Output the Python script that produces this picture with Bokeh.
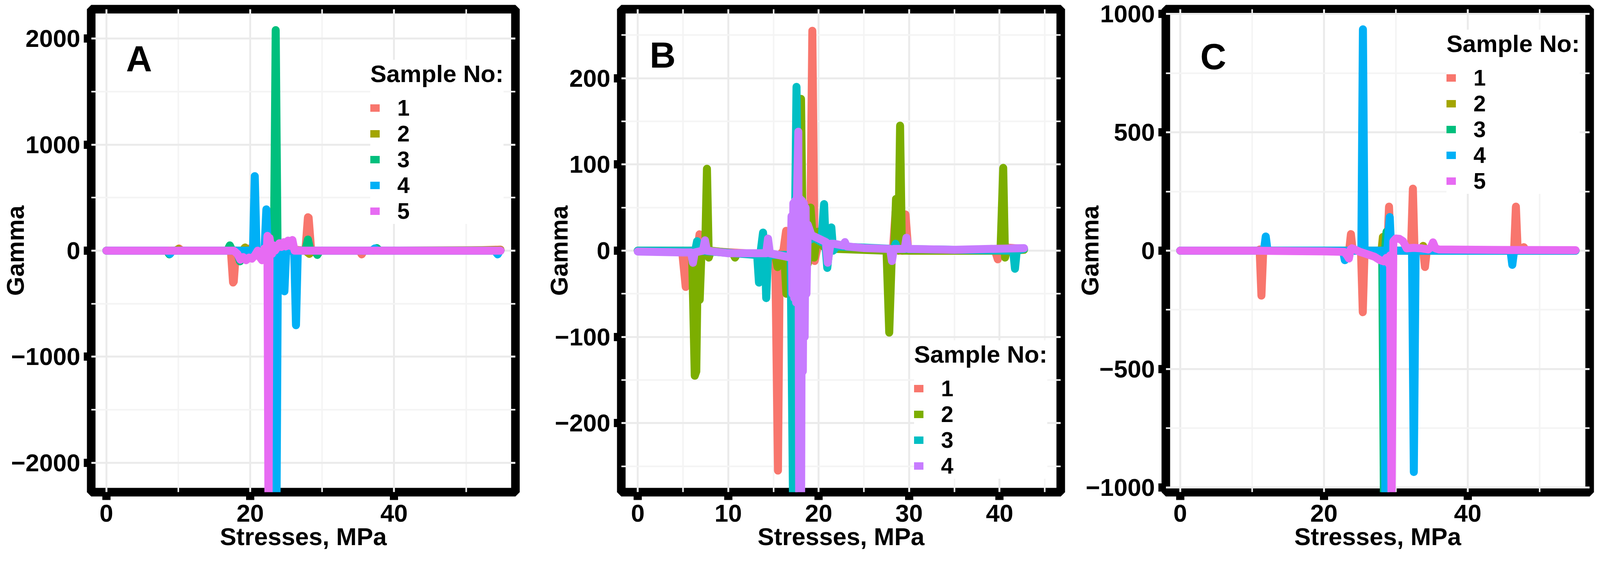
from bokeh.plotting import figure
from bokeh.models import FixedTicker, Legend, LegendItem, Label, Range1d
from bokeh.layouts import row
from bokeh.embed import file_html
from bokeh.resources import INLINE

# ---------------- data ----------------
# Panel A (5 samples)
a_names = ["1", "2", "3", "4", "5"]
a_colors = ["#F8766D", "#A3A500", "#00BF7D", "#00B0F6", "#E76BF3"]
a1_x = [0, 5, 9.7, 10.1, 10.5, 15, 17.31, 17.61, 17.71, 18.02, 19.43, 19.83, 20.63, 22.24, 23.75, 25.25, 27.67, 28.02, 28.12, 28.47, 30, 35.2, 35.5, 35.8, 40, 45, 50, 54.8]
a1_y = [0, 0, 0, 20, 0, 0, 0, -300, -290, 0, 0, 20, -15, 10, 0, 15, 0, 315, 310, 0, 0, 0, -35, 0, 0, 0, 0, 10]
a2_x = [0, 9.6, 10.0, 10.4, 18.92, 19.27, 19.63, 22.24, 27.67, 28.22, 28.67, 36, 54.8]
a2_y = [0, 0, 15, 0, 0, 30, 0, 0, 0, -30, 0, 0, 5]
a3_x = [0, 8.4, 8.75, 9.1, 16.81, 17.16, 17.51, 18.12, 18.57, 19.02, 23.29, 23.54, 23.8, 27.67, 28.02, 28.37, 28.97, 29.33, 29.68, 37.2, 37.6, 38.0, 54.8]
a3_y = [0, 0, -35, 0, 0, 50, 0, 0, -100, 0, 0, 2080, 0, 0, 105, 0, 0, -40, 0, 0, 25, 0, 0]
a4_x = [0, 8.5, 8.85, 9.2, 20.38, 20.63, 20.88, 21.98, 22.24, 22.44, 23.44, 23.64, 23.85, 24.5, 24.75, 25.0, 26.11, 26.36, 26.61, 36.9, 37.3, 37.7, 54.0, 54.4, 54.7]
a4_y = [0, 0, -30, 0, 0, 703, 0, 0, 390, 0, 0, -2600, 0, 0, -383, 0, 0, -703, 0, 0, 20, 0, 0, -35, 0]
a5_x = [0, 5, 10, 15, 17.71, 18.22, 18.62, 19.02, 19.42, 19.83, 20.23, 20.63, 21.03, 21.33, 21.64, 21.94, 22.24, 22.39, 22.54, 22.69, 22.84, 23.04, 23.24, 23.44, 23.75, 24.05, 24.35, 24.65, 24.95, 25.25, 25.56, 25.86, 26.16, 26.76, 30, 40, 50, 54.8]
a5_y = [0, 0, 0, 0, 0, -30, -85, -60, -90, -65, -75, -45, 0, -60, -90, 20, -70, 140, -2600, 120, 40, -30, 50, 0, 30, 70, 35, 80, 40, 95, 45, 100, 0, 0, 0, 0, 0, 0]

# Panel B (4 samples)
b_names = ["1", "2", "3", "4"]
b_colors = ["#F8766D", "#7CAE00", "#00BFC4", "#C77CFF"]
b1_x = [0, 4.9, 5.3, 5.5, 5.7, 6.6, 6.83, 7.05, 12.0, 15.2, 15.5, 15.7, 16.1, 16.4, 16.7, 17.5, 18.2, 18.6, 19.05, 19.3, 19.55, 19.9, 20.3, 21.0, 25.0, 28.2, 28.5, 28.8, 29.3, 29.6, 29.9, 35.0, 39.5, 39.8, 40.1, 40.3, 42.7]
b1_y = [0, 0, -42, -38, 0, 0, 19, 0, -3, -5, -255, -5, 0, 23, 0, 0, -10, -12, 0, 255, -12, 5, 18, 5, 2, 0, 45, 0, 0, 42, 0, 0, 0, -10, 0, 4, 2]
b2_x = [0, 6.0, 6.3, 6.47, 6.65, 6.85, 7.05, 7.45, 7.65, 7.85, 8.1, 10.5, 10.75, 11.0, 15.2, 15.45, 15.7, 16.2, 16.43, 16.65, 17.85, 18.05, 18.25, 18.5, 18.8, 19.1, 19.5, 19.9, 20.5, 22.0, 27.5, 27.8, 28.1, 28.35, 28.55, 28.8, 29.0, 29.2, 30.0, 40.1, 40.4, 40.6, 40.8, 42.7]
b2_y = [0, 0, -145, -140, 0, -57, 0, 0, 95, -8, 0, -3, -8, -3, -5, -19, -5, -5, -50, -5, 0, 176, 0, 45, -15, 50, -8, 22, 5, 2, 0, -95, 0, 0, 60, 0, 145, 0, 0, 0, 96, -8, 0, 1]
b3_x = [0, 6.35, 6.56, 6.75, 13.2, 13.4, 13.6, 13.85, 14.05, 14.2, 14.4, 16.9, 17.2, 17.35, 17.55, 17.75, 18.0, 18.5, 19.5, 20.3, 20.6, 20.8, 20.95, 21.15, 21.4, 21.6, 22.0, 28.3, 28.5, 28.7, 41.5, 41.7, 41.9, 42.7]
b3_y = [0, 0, 11, 0, -5, -37, 0, 21, 0, -55, -5, -5, -330, 0, 190, 0, -20, 10, 15, 10, 54, 0, -20, 0, 27, 0, 5, 2, 8, 2, 0, -21, 0, 2]
b4_x = [0, 5.0, 5.9, 6.1, 6.3, 7.2, 7.43, 7.65, 10.0, 14.2, 14.4, 14.6, 16.0, 16.9, 17.0, 17.1, 17.2, 17.3, 17.4, 17.5, 17.6, 17.75, 17.85, 17.95, 18.05, 18.15, 18.25, 18.35, 18.45, 18.55, 18.65, 18.8, 19.2, 20.0, 20.8, 21.0, 21.3, 21.7, 22.7, 22.9, 23.1, 25.0, 27.9, 28.1, 28.3, 29.5, 29.7, 29.9, 35.0, 42.7]
b4_y = [-1, -2, -2, -14, -2, 0, 12, 0, -3, -3, 14, -3, -6, -8, 40, -50, 55, -55, 58, -60, 60, 138, -330, 60, -330, 58, -140, 55, -100, 50, -50, 30, 18, 14, 10, -14, 8, 8, 6, 10, 5, 3, 2, -12, 2, 2, 15, 2, 1, 3]

# Panel C (5 samples)
c_names = ["1", "2", "3", "4", "5"]
c_colors = ["#F8766D", "#A3A500", "#00BF7D", "#00B0F6", "#E76BF3"]
c1_x = [0, 10.8, 11.05, 11.3, 11.55, 11.8, 20.0, 23.5, 23.75, 24.0, 25.15, 25.4, 25.65, 28.8, 29.05, 29.3, 32.1, 32.37, 32.6, 33.8, 34.05, 34.3, 40.0, 46.45, 46.7, 46.95, 47.5, 47.8, 48.1, 55.0]
c1_y = [0, 0, 5, -190, 0, 0, 0, 0, 70, 0, 0, -260, 0, 0, 186, 0, 0, 262, 0, 0, -69, 0, 0, 0, 186, 0, 0, 15, 0, 0]
c2_x = [0, 23.0, 23.2, 23.4, 28.0, 28.2, 28.35, 28.5, 28.7, 33.6, 33.8, 34.0, 55.0]
c2_y = [0, 0, -15, 0, 0, 58, -90, 10, 0, 0, 20, 0, 0]
c3_x = [0, 23.0, 28.1, 28.35, 28.5, 28.7, 28.9, 29.1, 55.0]
c3_y = [0, 0, 0, -1100, 0, 80, 0, 0, 0]
c4_x = [0, 11.65, 11.9, 12.15, 22.65, 22.9, 23.15, 25.2, 25.42, 25.65, 28.3, 28.55, 28.8, 29.15, 29.35, 32.25, 32.5, 32.75, 45.95, 46.2, 46.45, 55.0]
c4_y = [0, 0, 60, 0, 0, -40, 0, 0, 935, 0, 0, -1100, 0, 142, 0, 0, -935, 0, 0, -60, 0, 0]
c5_x = [0, 10.0, 20.0, 22.8, 23.2, 23.47, 23.7, 23.9, 24.3, 25.0, 26.0, 27.0, 27.8, 28.3, 28.7, 29.0, 29.2, 29.4, 29.65, 30.0, 30.5, 31.0, 31.5, 32.5, 33.5, 34.5, 34.9, 35.17, 35.5, 36.0, 45.0, 55.0]
c5_y = [0, 0, -3, -5, -20, -33, 5, 10, 5, -5, -15, -25, -40, -45, -30, -55, -20, -1100, 40, 51, 50, 40, 10, 12, 10, 5, 15, 35, 10, 5, 3, 2]

# axis ticks
a_xticks = [0, 20, 40]
a_xminor = [10, 30, 50]
a_yticks = [-2000, -1000, 0, 1000, 2000]
a_yminor = [-1500, -500, 500, 1500]
b_xticks = [0, 10, 20, 30, 40]
b_xminor = [5, 15, 25, 35, 45]
b_yticks = [-200, -100, 0, 100, 200]
b_yminor = [-250, -150, -50, 50, 150, 250]
c_xticks = [0, 20, 40]
c_xminor = [10, 30, 50]
c_yticks = [-1000, -500, 0, 500, 1000]
c_yminor = [-750, -250, 250, 750]

FONT = "Liberation Sans"
HEIGHT = 1434
LINE_W = 20.5


def fmt(v):
    return ("\u2212" + str(abs(v))) if v < 0 else str(v)


def build(width, bl, br, xr, yr, xt, xm, yt, ym, series, colors, names,
          leg_loc, letter, letter_xy):
    p = figure(width=width, height=HEIGHT, x_range=Range1d(*xr), y_range=Range1d(*yr),
               output_backend="svg", toolbar_location=None,
               min_border_left=bl, min_border_right=br,
               min_border_top=23, min_border_bottom=175)
    p.background_fill_color = "white"
    p.border_fill_color = "white"
    p.outline_line_color = "black"
    p.outline_line_width = 22

    xtick = FixedTicker(ticks=xt, minor_ticks=xm)
    ytick = FixedTicker(ticks=yt, minor_ticks=ym)
    p.xaxis.ticker = xtick
    p.yaxis.ticker = ytick
    p.xgrid.ticker = xtick
    p.ygrid.ticker = ytick
    for g in (p.xgrid[0], p.ygrid[0]):
        g.grid_line_color = "#ebebeb"
        g.grid_line_width = 5
        g.minor_grid_line_color = "#f4f4f4"
        g.minor_grid_line_width = 4

    p.xaxis.major_label_overrides = {v: fmt(v) for v in xt}
    p.yaxis.major_label_overrides = {v: fmt(v) for v in yt}
    for ax in (p.xaxis[0], p.yaxis[0]):
        ax.axis_line_color = None
        ax.major_tick_line_color = "black"
        ax.major_tick_line_width = 21
        ax.major_tick_in = 0
        ax.minor_tick_line_color = None
        ax.major_label_text_font = FONT
        ax.major_label_text_font_style = "bold"
        ax.major_label_text_font_size = "63px"
        ax.major_label_text_color = "black"
        ax.axis_label_text_font = FONT
        ax.axis_label_text_font_style = "bold"
        ax.axis_label_text_font_size = "63px"
        ax.axis_label_text_color = "black"
    p.xaxis.major_tick_out = 20
    p.yaxis.major_tick_out = 19
    p.xaxis.axis_label = "Stresses, MPa"
    p.yaxis.axis_label = "Gamma"
    p.xaxis.major_label_standoff = 12
    p.xaxis.axis_label_standoff = 0
    p.yaxis.major_label_standoff = 9
    p.yaxis.axis_label_standoff = -48

    rends = []
    for (x, y), c in zip(series, colors):
        r = p.line(x, y, line_color=c, line_width=LINE_W, line_cap="round", line_join="round")
        rends.append(r)

    items = [LegendItem(label=n, renderers=[r]) for n, r in zip(names, rends)]
    leg = Legend(items=items, location=leg_loc, title="Sample No:",
                 title_text_font=FONT, title_text_font_style="bold",
                 title_text_font_size="62px", title_text_color="black", title_standoff=19,
                 label_text_font=FONT, label_text_font_style="bold",
                 label_text_font_size="57px", label_text_color="black",
                 glyph_width=24, glyph_height=19, label_standoff=45,
                 spacing=0, padding=10, margin=0,
                 border_line_color=None, background_fill_color="white",
                 background_fill_alpha=1.0)
    p.add_layout(leg)

    p.add_layout(Label(x=letter_xy[0], y=letter_xy[1], text=letter,
                       text_font=FONT, text_font_style="bold", text_font_size="92px",
                       text_color="black", text_align="left", text_baseline="top"))
    return p


pA = build(1358, 233, 39, (-2.11, 56.87), (-2277, 2277), a_xticks, a_xminor, a_yticks, a_yminor,
           [(a1_x, a1_y), (a2_x, a2_y), (a3_x, a3_y), (a4_x, a4_y), (a5_x, a5_y)],
           a_colors, a_names, (715, 686), "A", (2.74, 2000))
pB = build(1393, 232, 36, (-1.82, 46.76), (-280, 280), b_xticks, b_xminor, b_yticks, b_yminor,
           [(b1_x, b1_y), (b2_x, b2_y), (b3_x, b3_y), (b4_x, b4_y)],
           b_colors, b_names, (750, 34), "B", (1.32, 250))
pC = build(1330, 229, 12, (-2.0, 56.96), (-1020, 1020), c_xticks, c_xminor, c_yticks, c_yminor,
           [(c1_x, c1_y), (c2_x, c2_y), (c3_x, c3_y), (c4_x, c4_y), (c5_x, c5_y)],
           c_colors, c_names, (719, 763), "C", (2.8, 903))

layout = row(pA, pB, pC)
open("out.html", "w").write(file_html(layout, INLINE))
